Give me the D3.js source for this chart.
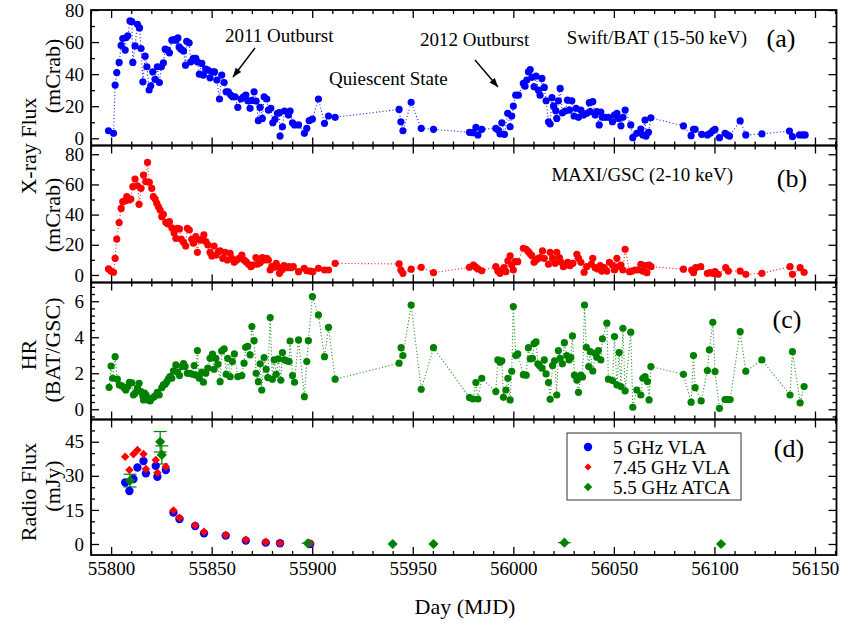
<!DOCTYPE html>
<html><head><meta charset="utf-8">
<script src="https://cdn.jsdelivr.net/npm/d3@7"></script>
<style>
body{margin:0;background:#fff}
svg{display:block}
text{font-family:"Liberation Serif","Times New Roman",serif;fill:#000}
</style>
</head><body>
<svg id="c" width="843" height="628"></svg>
<script>
// ---------------- DATA ----------------
// (a) Swift/BAT 15-50 keV [MJD, mCrab]
const batData = [[55798.7,4.7],[55801.2,3.1],[55802,33.2],[55802.8,41],[55804,47.3],[55805,57.9],[55805.8,62.2],[55807,55],[55807.5,62.8],[55808.3,63.9],[55809.4,73.2],[55810.3,72.8],[55810.8,47.3],[55811.9,57.6],[55813.1,71.1],[55814.1,68.8],[55814.9,56],[55815.8,35.2],[55816.9,51.2],[55817.8,44.6],[55818.9,30.1],[55819.7,32.7],[55820.7,41.5],[55821.9,36.7],[55823,44.6],[55824,34.8],[55825,44.6],[55826,47.1],[55826.9,55.6],[55828,55],[55829,53.3],[55830.2,61.2],[55831.3,61.6],[55832.2,61.2],[55833.2,62.6],[55833.8,57],[55834.8,55.6],[55836,54.5],[55837,45.6],[55837.6,60.5],[55838.8,59.5],[55839.6,47.7],[55840.9,49.8],[55842.1,49.8],[55842.9,47.7],[55843.9,40],[55845.1,46.7],[55845.9,39.4],[55847.1,43.1],[55848.1,42.5],[55849.2,37.7],[55850.4,41.5],[55851.4,41.4],[55852.6,36.3],[55853.9,24.5],[55855,39.4],[55856.2,34.8],[55857.2,29],[55858.3,29],[55859.5,27],[55860.5,25.9],[55861.6,25.9],[55863,19.3],[55864.6,24.5],[55865.8,25.9],[55867,27],[55868,23.4],[55869.1,18.7],[55870,23.6],[55871.1,29],[55872.1,23.2],[55873.2,11],[55874.1,19.3],[55875.2,12.4],[55876.1,25.9],[55877.4,24.5],[55878.2,17.6],[55879.4,18.7],[55880.4,9.7],[55881.5,11.8],[55882.7,15.6],[55883.7,16],[55884,1.4],[55885.2,7.2],[55886.2,17],[55888.2,14.5],[55889,17],[55890.2,9.7],[55891.2,8.3],[55893.2,8.3],[55896.1,3.1],[55897.3,6.2],[55898.5,11],[55900.1,12],[55903.1,24.5],[55906.1,9.3],[55908.1,13.9],[55911.4,13.1],
[55943.2,18],[55944.1,10.3],[55945.1,4.7],[55949.2,22.4],[55954.2,6.2],[55960.3,5.6],[55978.2,3.7],[55979.9,3.5],[55981.4,6.8],[55982.4,2.1],[55984.3,5.6],[55991.3,6.2],[55992.6,5],[55993.4,2.7],[55994.3,9.7],[55995.6,2.5],[55997.2,15.6],[55998.4,7.2],[55999.2,13.9],[56000,20.1],[56001.2,26.9],[56002.5,26.9],[56005,34.2],[56005.8,32.5],[56006.7,36.3],[56007.5,41.5],[56008.4,42.9],[56009.2,38],[56010.3,32.1],[56011.3,38.8],[56012.5,30],[56013.3,26.9],[56014.2,37.3],[56015.4,31.7],[56016.3,23.4],[56017.5,10.3],[56018.3,8.9],[56019.2,25.3],[56020,20.1],[56021.1,17.2],[56021.6,12.4],[56022.4,23.4],[56023.3,31.1],[56024.4,15.9],[56025.8,17],[56026.9,23.8],[56027.9,17.6],[56029.1,23.4],[56030.2,13.9],[56031.2,18.7],[56032.4,13.1],[56033.6,17.6],[56034.9,14.5],[56036.5,15.6],[56037.8,22.2],[56038.2,16.6],[56039.5,22.8],[56040.7,14.5],[56041.5,16.6],[56042.7,8.3],[56043.5,16.4],[56044.3,13.1],[56045.7,13.1],[56047.3,13.1],[56049.3,10.3],[56050.3,14.5],[56051.5,15.6],[56052.3,12.4],[56053.5,7.8],[56054.5,13.1],[56055.6,17.6],[56058.4,8.3],[56059.4,0.4],[56061.4,3.1],[56063.4,5.8],[56064.4,2.1],[56065.5,11.4],[56066,1.4],[56067.2,3.7],[56068.4,12.8],[56084.6,7.7],[56088.4,1.6],[56089.6,5.6],[56090.4,5.6],[56093.7,2.5],[56096.5,2.1],[56097.9,3.1],[56099.2,4.7],[56100.3,5.6],[56102.5,0.4],[56105.3,3.1],[56106.5,2.1],[56107.5,1.4],[56112.8,10.8],[56115.6,2.1],[56123.6,2.7],[56137.3,4.5],[56138.8,1],[56142.3,2.1],[56143.9,2.1],[56145.1,2.1]];

// (b) MAXI/GSC 2-10 keV [MJD, mCrab]
const maxiData = [[55798.7,4],[55799.9,2.6],[55801.2,1.8],[55802,11],[55802.8,23.8],[55804,34.7],[55805,44.1],[55805.8,48.6],[55807,49.2],[55807.8,51.9],[55809,49.7],[55809.8,50.3],[55810.8,58.5],[55811.9,63.6],[55813.1,59.1],[55813.9,46.8],[55814.9,57.4],[55816.1,66.2],[55817.3,61.8],[55818.1,74.6],[55819,61.4],[55820.2,57.4],[55821,51.9],[55821.9,50.3],[55822.7,47.5],[55823.5,45.2],[55824.4,43],[55825.2,38.6],[55826,40.2],[55827.2,34.9],[55828.2,33.8],[55829,35.3],[55830.2,31.3],[55831.3,28],[55832.2,24.3],[55833,30.9],[55834,30.5],[55834.8,23.8],[55836,21.7],[55837.1,19.2],[55837.9,30.9],[55838.9,29.8],[55840.1,23.6],[55840.9,21],[55842.1,25.4],[55842.9,15],[55843.9,23.2],[55845.1,23.2],[55846.1,26.5],[55847.1,22.1],[55848.1,19.9],[55849.2,15],[55850.1,12.6],[55851.2,19.2],[55852.2,13.2],[55853.4,15.4],[55854.2,15.9],[55855.5,11],[55856.7,15],[55857.8,9.9],[55859.2,14.4],[55860,11],[55861.2,8.4],[55862.5,9.9],[55863.6,11],[55865,13.2],[55866.1,9.9],[55867.1,8.8],[55868.3,7.1],[55869.5,5.5],[55870.5,6.6],[55872,11.5],[55872.8,7.1],[55874.1,8.1],[55875.2,11.5],[55876.1,9.9],[55877.4,11],[55878.2,9.9],[55879.1,3.3],[55879.9,5.5],[55881.1,5.1],[55882.1,7.7],[55882.9,5.5],[55883.7,1.1],[55884.9,3.3],[55886,6.2],[55887.4,4.8],[55888.5,5.5],[55889.5,4.8],[55890.6,5.5],[55893.2,2.2],[55896,4.4],[55897.3,2.8],[55899,2.6],[55900.3,2.2],[55903.1,4.4],[55906.1,3.3],[55908.1,3.3],[55911.4,7.7],
[55943.2,7.3],[55944.1,3.3],[55945.1,1.1],[55949.2,3.8],[55954.2,5.1],[55960.3,1.5],[55978.2,5.1],[55980.2,6.6],[55981.4,5.1],[55982.4,4],[55984.3,2.8],[55991.3,5.5],[55992.3,2.6],[55993.4,1.1],[55994.3,3.3],[55995.4,4.8],[55996.3,2.2],[55997.3,9.3],[55998.4,12.6],[55999.2,6.6],[56000,3.3],[56000.9,8.8],[56002.2,8.8],[56005,17.7],[56006.4,17],[56007.5,15.4],[56008.4,13.9],[56009.2,12.8],[56010.3,8.4],[56011.3,9.9],[56012.5,11],[56013.3,11.5],[56014.5,15.9],[56015.4,11],[56017.5,7.1],[56018.3,15],[56019.5,11],[56020.8,7.7],[56021.6,15],[56022.9,11.5],[56023.8,8.4],[56024.9,5.5],[56026.1,6.6],[56027.1,8.4],[56028.2,6.2],[56029.6,7.7],[56031.6,13.7],[56032.4,11],[56033.6,8.4],[56035.2,1.8],[56036.5,5.5],[56038.8,7.1],[56039.5,11],[56040.7,4.8],[56041.9,4],[56043.2,6.2],[56044,2.6],[56045.2,4.8],[56046.5,2.6],[56047.8,8.4],[56049.3,6.6],[56050.3,3.3],[56051.5,11],[56052.3,5.5],[56053.5,6.6],[56054.5,3.3],[56055.6,17],[56057.8,2.2],[56059,2.6],[56060.6,3.3],[56062,3.3],[56063.4,7.1],[56064.4,2.6],[56065.5,6.2],[56066.4,1.5],[56067.5,6.6],[56068.5,5.5],[56084.6,3.8],[56088.7,3.3],[56089.6,1.5],[56090.7,4.8],[56093.2,5.5],[56096.5,1.1],[56097.9,1.5],[56099.2,1.1],[56100.3,2.2],[56101.9,0.4],[56105.6,4.8],[56106.9,2.6],[56112.8,2.6],[56115.6,0.4],[56123.6,1.1],[56137.6,5.5],[56138.8,0.4],[56142.6,4.8],[56144.6,1.8]];

// (c) hardness ratio BAT/GSC [MJD, HR]
const hrData = [[55799,1.22],[55800,2.4],[55800.8,1.72],[55802,2.92],[55803.1,1.67],[55804.1,1.35],[55805.3,1.3],[55806.5,1.2],[55807.3,1.07],[55808.3,1.26],[55809.1,1.5],[55810.3,1.46],[55811.1,0.79],[55811.9,0.89],[55813.1,1.17],[55813.9,1.44],[55814.9,0.98],[55815.8,0.74],[55816.1,0.52],[55816.6,0.89],[55817.4,0.79],[55818.5,0.52],[55819.4,0.46],[55820.2,0.61],[55821.4,0.7],[55822.4,0.79],[55823,0.94],[55823.9,0.79],[55825.2,1.2],[55826,1.35],[55826.9,1.39],[55827.7,1.53],[55828.5,1.69],[55829.3,1.81],[55830.2,1.72],[55831,2.13],[55832.2,2.46],[55833,2.06],[55834,1.87],[55835.2,2.37],[55836,2.54],[55836.8,2.37],[55837.9,2],[55839.3,2],[55840.4,1.94],[55841.3,2.43],[55842.1,1.9],[55842.9,3.26],[55843.9,1.72],[55845.1,2.06],[55845.9,1.5],[55847.1,2],[55848.1,2.28],[55849.2,2.83],[55850.4,3.06],[55851.2,2.22],[55852.1,2.83],[55853.1,2.5],[55854.2,1.53],[55855,3.24],[55856.2,3.35],[55857.2,1.94],[55858,2.83],[55859.2,1.81],[55860.3,2.65],[55861.3,3.07],[55863,1.81],[55865,1.87],[55866.1,2.56],[55866.9,3.44],[55867.9,3.5],[55869.1,3.02],[55870,4.59],[55871.1,3.81],[55872.1,2],[55873.2,1.53],[55874.1,2.52],[55874.9,1.07],[55876.1,2.87],[55877.1,2.22],[55877.9,1.76],[55879.1,5.09],[55880.2,1.67],[55881.1,2.74],[55882.1,1.94],[55883.2,2.8],[55884.4,1.61],[55885.2,3.15],[55886.2,2.74],[55887.4,2.69],[55888.5,2.65],[55889,3.79],[55890.2,1.87],[55891.2,1.5],[55893.2,3.85],[55896.1,0.7],[55897.3,2.65],[55898.1,3.81],[55900.1,6.26],[55903.1,5.24],[55906.1,2.92],[55908.1,4.55],[55911.4,1.67],
[55943.2,2.56],[55944.2,3.42],[55945.1,2.98],[55949.2,5.79],[55954.2,1.11],[55960.3,3.42],[55978.2,0.65],[55979.9,0.57],[55981.4,1.48],[55982.4,0.57],[55984.3,1.72],[55991.3,0.98],[55992.3,2.74],[55993.4,2.61],[55994.3,2.69],[55995.1,0.66],[55996.3,1.07],[55997.3,1.72],[55998.4,0.52],[55999.2,2.11],[56000,5.7],[56001.2,2.98],[56002.2,3.07],[56005,1.92],[56006.4,1.89],[56007.5,3.42],[56008.4,2.8],[56009.5,2.83],[56010.3,3.65],[56011.3,3.74],[56012.2,2.52],[56013,2.43],[56014.2,2.28],[56015.4,2.74],[56016.3,1.96],[56017.5,1.48],[56018.3,0.55],[56019.5,2.43],[56020.5,2.69],[56021.6,0.79],[56022.4,3.26],[56023.3,2.83],[56024.4,2.52],[56025.4,3.7],[56026.6,2.98],[56027.7,2.74],[56028.6,2.87],[56029.4,4.07],[56030.4,1.89],[56031.6,1.61],[56032.4,0.94],[56033.6,1.89],[56034.4,1.79],[56035.4,5.79],[56036.3,3.44],[56037.5,2.37],[56038.3,3.2],[56039.5,2.13],[56040.7,3.11],[56041.5,2.89],[56042.3,3.26],[56043.5,2.74],[56044.3,3.91],[56046.5,4.78],[56047.3,1.67],[56049.3,1.59],[56050.3,4.04],[56051.5,1.35],[56052.6,3.15],[56053.5,1.26],[56054.5,4.5],[56055.6,1.02],[56058.4,4.28],[56059.4,0.11],[56061.4,1.07],[56063.4,0.79],[56064.4,1.72],[56065.5,1.81],[56066.7,1.54],[56067.5,0.52],[56068.4,2.37],[56084.6,1.94],[56088.4,0.39],[56089.6,2.98],[56090.4,1.2],[56093.4,0.46],[56096.5,2.15],[56097.5,3.3],[56099.2,4.83],[56100.3,2.09],[56102.5,0.05],[56105.3,0.54],[56106.5,0.54],[56107.8,0.54],[56112.8,4.31],[56115.6,2.11],[56123.6,2.74],[56137.6,0.79],[56138.8,3.2],[56142.6,0.35],[56144.6,1.26]];

// (d) radio
const vlaDays   = [55807,55809.1,55811.1,55813.1,55816.1,55817.3,55822.2,55823,55827.2,55831,55834,55841.8,55846.2,55857,55867,55876.9,55884,55899];
const vla5Flux  = [27.1,23.3,28.6,33.7,36.5,31.1,34.4,29.6,32.6,13.8,11,7.9,4.7,3.7,1.5,0.6,0.3,0];
const vla745Flux= [38.4,32.6,39.5,41.4,39.6,33,37,31.4,34,14.8,11.6,8.2,5.4,4,1.9,0.9,0.3,0.3];
const atcaDays  = [55809.4,55824.4,55825.2,55897.8,55940,55960.3,56025.4,56103.3];
const atcaFlux  = [27.9,45,39.2,0.3,0,0,0.6,0];
const atcaErr   = [2.8,4.5,4,0.4,0.4,0.4,0.4,0.4];
const atcaDayErr= [0,0,0,3,0,0,3.2,0];

const xTicks = [55800,55850,55900,55950,56000,56050,56100,56150];
const legendLabels = ["5 GHz VLA","7.45 GHz VLA","5.5 GHz ATCA"];

// ---------------- LAYOUT ----------------
const svg = d3.select('#c');
const L = 91, R = 836.5;
const x = d3.scaleLinear().domain([55790, 56160.7]).range([L, R]);
const FS = 19;

const panels = [
  {top:10,    bot:145.5, dom:[-4.5,80],    ticks:[0,20,40,60,80], minor:10},
  {top:145.5, bot:282.5, dom:[-5,85.8],    ticks:[0,20,40,60,80], minor:10},
  {top:282.5, bot:419.5, dom:[-0.57,7.04], ticks:[0,2,4,6],       minor:0.4},
  {top:419.5, bot:555,   dom:[-4.84,54.8], ticks:[0,15,30,45],    minor:5}
];
panels.forEach(p => p.y = d3.scaleLinear().domain(p.dom).range([p.bot, p.top]));

const minorX = d3.range(55790, 56161, 10).filter(v => xTicks.indexOf(v) < 0);

function styleAxis(g){
  g.select('.domain').remove();
  g.selectAll('line').attr('stroke','#000').attr('stroke-width',1.3);
  g.selectAll('text').attr('font-family','"Liberation Serif","Times New Roman",serif').attr('font-size',FS).attr('fill','#000');
}

panels.forEach((p, i) => {
  const minorY = d3.range(Math.ceil(p.dom[0]/p.minor)*p.minor, p.dom[1], p.minor)
      .map(v => +v.toFixed(3)).filter(v => p.ticks.every(t => Math.abs(t - v) > 1e-6));
  svg.append('g').attr('transform',`translate(${L},0)`)
    .call(d3.axisLeft(p.y).tickValues(p.ticks).tickSize(-8).tickSizeOuter(0).tickPadding(7)).call(styleAxis);
  svg.append('g').attr('transform',`translate(${L},0)`)
    .call(d3.axisLeft(p.y).tickValues(minorY).tickSize(-4).tickSizeOuter(0).tickFormat('')).call(styleAxis);
  svg.append('g').attr('transform',`translate(${R},0)`)
    .call(d3.axisRight(p.y).tickValues(p.ticks).tickSize(-8).tickSizeOuter(0).tickFormat('')).call(styleAxis);
  svg.append('g').attr('transform',`translate(${R},0)`)
    .call(d3.axisRight(p.y).tickValues(minorY).tickSize(-4).tickSizeOuter(0).tickFormat('')).call(styleAxis);
  svg.append('g').attr('transform',`translate(0,${p.top})`)
    .call(d3.axisTop(x).tickValues(xTicks).tickSize(-8).tickSizeOuter(0).tickFormat('')).call(styleAxis);
  svg.append('g').attr('transform',`translate(0,${p.top})`)
    .call(d3.axisTop(x).tickValues(minorX).tickSize(-4).tickSizeOuter(0).tickFormat('')).call(styleAxis);
  svg.append('g').attr('transform',`translate(0,${p.bot})`)
    .call(d3.axisBottom(x).tickValues(xTicks).tickSize(-8).tickSizeOuter(0).tickPadding(7)
      .tickFormat(i === 3 ? d3.format('d') : '')).call(styleAxis);
  svg.append('g').attr('transform',`translate(0,${p.bot})`)
    .call(d3.axisBottom(x).tickValues(minorX).tickSize(-4).tickSizeOuter(0).tickFormat('')).call(styleAxis);
  svg.append('rect').attr('x',L).attr('y',p.top).attr('width',R-L).attr('height',p.bot-p.top)
    .attr('fill','none').attr('stroke','#000').attr('stroke-width',1.8);
});

// ---------- series a,b,c ----------
function series(p, data, color){
  const d = data.slice().sort((a,b)=>a[0]-b[0]);
  const line = d3.line().x(v=>x(v[0])).y(v=>p.y(v[1]));
  svg.append('path').datum(d).attr('d',line).attr('fill','none')
    .attr('stroke',color).attr('stroke-width',1.1).attr('stroke-dasharray','1.1,2.2').attr('opacity',0.85);
  svg.append('g').selectAll('circle').data(d).join('circle')
    .attr('cx',v=>x(v[0])).attr('cy',v=>p.y(v[1])).attr('r',3.6).attr('fill',color);
}
series(panels[0], batData, '#0000ff');
series(panels[1], maxiData, '#ff0000');
series(panels[2], hrData, '#008000');

// ---------- radio ----------
const pd = panels[3];
// square diamond (rotated square)
const sq = s => d3.symbol().type(d3.symbolSquare).size(s)();
const gE = svg.append('g').attr('stroke','#008000').attr('stroke-width',1.2);
atcaDays.forEach((d,i)=>{
  const cx = x(d), cy = pd.y(atcaFlux[i]);
  if (atcaErr[i] > 1){
    const y1 = pd.y(atcaFlux[i]+atcaErr[i]), y2 = pd.y(atcaFlux[i]-atcaErr[i]);
    gE.append('line').attr('x1',cx).attr('x2',cx).attr('y1',y1).attr('y2',y2);
    gE.append('line').attr('x1',cx-6.5).attr('x2',cx+6.5).attr('y1',y1).attr('y2',y1);
    gE.append('line').attr('x1',cx-6.5).attr('x2',cx+6.5).attr('y1',y2).attr('y2',y2);
  }
  if (atcaDayErr[i] > 0){
    gE.append('line').attr('x1',x(d-atcaDayErr[i])).attr('x2',x(d+atcaDayErr[i])).attr('y1',cy).attr('y2',cy);
  }
});
svg.append('g').selectAll('circle').data(vlaDays).join('circle')
  .attr('cx',d=>x(d)).attr('cy',(d,i)=>pd.y(vla5Flux[i])).attr('r',4.2).attr('fill','#0000ff');
svg.append('g').selectAll('path').data(vlaDays).join('path')
  .attr('d',sq(36)).attr('fill','#ff0000')
  .attr('transform',(d,i)=>`translate(${x(d)},${pd.y(vla745Flux[i])}) rotate(45)`);
svg.append('g').selectAll('path').data(atcaDays).join('path')
  .attr('d',sq(52)).attr('fill','#008000')
  .attr('transform',(d,i)=>`translate(${x(d)},${pd.y(atcaFlux[i])}) rotate(45)`);

// legend
const lg = svg.append('g');
lg.append('rect').attr('x',567).attr('y',433).attr('width',174).attr('height',67)
  .attr('fill','#fff').attr('stroke','#333').attr('stroke-width',1);
const legendMarks = [
  g => g.append('circle').attr('r',4.2).attr('fill','#0000ff'),
  g => g.append('path').attr('d',sq(26)).attr('fill','#ff0000').attr('transform','rotate(45)'),
  g => g.append('path').attr('d',sq(36)).attr('fill','#008000').attr('transform','rotate(45)')
];
legendLabels.forEach((t,i)=>{
  const g = lg.append('g').attr('transform',`translate(588,${447+i*20})`);
  legendMarks[i](g);
  g.append('text').attr('x',25).attr('y',6.5).attr('font-size',FS).text(t);
});

// ---------- annotations ----------
function txt(xp, yp, t, size, anchor){
  svg.append('text').attr('x',xp).attr('y',yp).attr('font-size',size).attr('text-anchor',anchor||'start').text(t);
}
txt(225, 42, '2011 Outburst', FS);
txt(329, 85, 'Quiescent State', FS);
txt(420, 46, '2012 Outburst', FS);
txt(747, 44, 'Swift/BAT (15-50 keV)', FS, 'end');
txt(733, 181, 'MAXI/GSC (2-10 keV)', FS, 'end');
txt(781, 47, '(a)', 26, 'middle');
txt(792, 187, '(b)', 26, 'middle');
txt(787, 328, '(c)', 26, 'middle');
txt(789, 457, '(d)', 26, 'middle');

function arrow(x1,y1,x2,y2){
  svg.append('line').attr('x1',x1).attr('y1',y1).attr('x2',x2).attr('y2',y2)
    .attr('stroke','#000').attr('stroke-width',1.4);
  const a = Math.atan2(y2-y1, x2-x1), len = 9, w = 3.5;
  const bx = x2 - len*Math.cos(a), by = y2 - len*Math.sin(a);
  const px = -Math.sin(a)*w, py = Math.cos(a)*w;
  svg.append('path').attr('d',`M${x2},${y2}L${bx+px},${by+py}L${bx-px},${by-py}Z`).attr('fill','#000');
}
arrow(255, 48, 233, 77);
arrow(475, 60, 498, 87);

// axis titles
function vtxt(xp, yp, t){
  svg.append('text').attr('transform',`translate(${xp},${yp}) rotate(-90)`)
    .attr('text-anchor','middle').attr('dy','0.35em').attr('font-size',22).text(t);
}
vtxt(28, 146, 'X-ray Flux');
vtxt(52, 76, '(mCrab)');
vtxt(52, 215, '(mCrab)');
vtxt(28, 355, 'HR');
vtxt(52, 350, '(BAT/GSC)');
vtxt(28, 492, 'Radio Flux');
vtxt(52, 486, '(mJy)');
svg.append('text').attr('x',465).attr('y',614).attr('text-anchor','middle').attr('font-size',22).text('Day (MJD)');
</script>
</body></html>
